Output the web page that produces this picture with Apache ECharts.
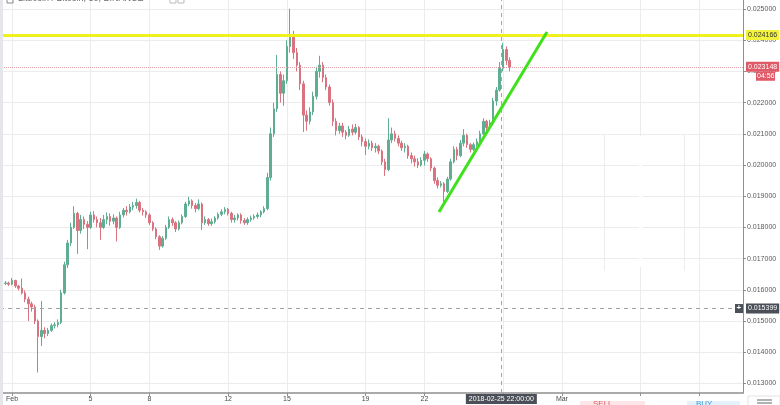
<!DOCTYPE html>
<html><head><meta charset="utf-8">
<script src="https://cdn.jsdelivr.net/npm/echarts@6/dist/echarts.min.js"></script>
<style>html,body{margin:0;padding:0;background:#fff;overflow:hidden}#c{width:780px;height:405px}</style>
</head><body><div id="c"></div>
<script>
// ---- data (LTC/BTC; 4h steps, day 0 = Feb 1 00:00) ----
const startDay = -1/3;
const stepDay = 1/6;
const opens = [0.01620,0.01622,0.01618,0.01630,0.01612,0.01605,0.01590,0.01570,0.01555,0.01545,
 0.01500,0.01450,0.01470,0.01460,0.01470,0.01485,0.01488,0.01495,0.01590,0.01680,
 0.01750,0.01800,0.01845,0.01790,0.01825,0.01810,0.01800,0.01840,0.01825,0.01815,
 0.01800,0.01825,0.01835,0.01820,0.01830,0.01800,0.01840,0.01855,0.01850,0.01865,
 0.01870,0.01880,0.01855,0.01850,0.01840,0.01815,0.01795,0.01770,0.01740,0.01765,
 0.01800,0.01825,0.01815,0.01795,0.01815,0.01835,0.01875,0.01885,0.01870,0.01860,
 0.01875,0.01815,0.01825,0.01812,0.01818,0.01830,0.01842,0.01850,0.01858,0.01845,
 0.01825,0.01830,0.01840,0.01822,0.01815,0.01825,0.01830,0.01835,0.01840,0.01850,
 0.01860,0.01960,0.02100,0.02180,0.02290,0.02230,0.02270,0.02380,0.02410,0.02360,
 0.02320,0.02260,0.02160,0.02140,0.02170,0.02220,0.02300,0.02320,0.02280,0.02250,
 0.02200,0.02140,0.02110,0.02125,0.02105,0.02095,0.02115,0.02105,0.02120,0.02090,
 0.02075,0.02060,0.02070,0.02055,0.02060,0.02045,0.02010,0.01985,0.02080,0.02100,
 0.02085,0.02070,0.02055,0.02060,0.02030,0.02020,0.02010,0.02000,0.02015,0.02035,
 0.02020,0.01990,0.01950,0.01935,0.01940,0.01915,0.01955,0.02010,0.02050,0.02030,
 0.02070,0.02095,0.02065,0.02050,0.02065,0.02075,0.02100,0.02140,0.02120,0.02135,
 0.02205,0.02240,0.02310,0.02370,0.02335];
const closes = [0.01622,0.01618,0.01630,0.01612,0.01605,0.01590,0.01570,0.01555,0.01545,0.01500,
 0.01450,0.01470,0.01460,0.01470,0.01485,0.01488,0.01495,0.01590,0.01680,0.01750,
 0.01800,0.01845,0.01790,0.01825,0.01810,0.01800,0.01840,0.01825,0.01815,0.01800,
 0.01825,0.01835,0.01820,0.01830,0.01800,0.01840,0.01855,0.01850,0.01865,0.01870,
 0.01880,0.01855,0.01850,0.01840,0.01815,0.01795,0.01770,0.01740,0.01765,0.01800,
 0.01825,0.01815,0.01795,0.01815,0.01835,0.01875,0.01885,0.01870,0.01860,0.01875,
 0.01815,0.01825,0.01812,0.01818,0.01830,0.01842,0.01850,0.01858,0.01845,0.01825,
 0.01830,0.01840,0.01822,0.01815,0.01825,0.01830,0.01835,0.01840,0.01850,0.01860,
 0.01960,0.02100,0.02180,0.02290,0.02230,0.02270,0.02380,0.02410,0.02360,0.02320,
 0.02260,0.02160,0.02140,0.02170,0.02220,0.02300,0.02320,0.02280,0.02250,0.02200,
 0.02140,0.02110,0.02125,0.02105,0.02095,0.02115,0.02105,0.02120,0.02090,0.02075,
 0.02060,0.02070,0.02055,0.02060,0.02045,0.02010,0.01985,0.02080,0.02100,0.02085,
 0.02070,0.02055,0.02060,0.02030,0.02020,0.02010,0.02000,0.02015,0.02035,0.02020,
 0.01990,0.01950,0.01935,0.01940,0.01915,0.01955,0.02010,0.02050,0.02030,0.02070,
 0.02095,0.02065,0.02050,0.02065,0.02075,0.02100,0.02140,0.02120,0.02135,0.02205,
 0.02240,0.02310,0.02370,0.02335,0.023148];
const lows = [0.01615,0.01612,0.01614,0.01606,0.01598,0.01585,0.01560,0.01500,0.01530,0.01490,
 0.01335,0.01420,0.01445,0.01452,0.01465,0.01476,0.01480,0.01490,0.01585,0.01670,
 0.01740,0.01795,0.01715,0.01780,0.01795,0.01730,0.01795,0.01815,0.01800,0.01760,
 0.01795,0.01810,0.01805,0.01810,0.01755,0.01795,0.01832,0.01838,0.01845,0.01855,
 0.01860,0.01848,0.01838,0.01830,0.01808,0.01788,0.01762,0.01728,0.01735,0.01760,
 0.01795,0.01805,0.01785,0.01790,0.01810,0.01830,0.01868,0.01860,0.01848,0.01855,
 0.01792,0.01808,0.01805,0.01805,0.01812,0.01825,0.01836,0.01842,0.01838,0.01815,
 0.01815,0.01822,0.01812,0.01808,0.01808,0.01818,0.01825,0.01828,0.01832,0.01845,
 0.01855,0.01950,0.02090,0.02170,0.02200,0.02190,0.02260,0.02360,0.02340,0.02300,
 0.02240,0.02106,0.02110,0.02130,0.02160,0.02210,0.02280,0.02265,0.02240,0.02190,
 0.02125,0.02095,0.02100,0.02090,0.02082,0.02090,0.02095,0.02098,0.02080,0.02060,
 0.02032,0.02050,0.02045,0.02040,0.02035,0.02000,0.01965,0.01980,0.02070,0.02075,
 0.02060,0.02045,0.02040,0.02020,0.02005,0.01995,0.01990,0.01995,0.01998,0.02010,
 0.01980,0.01940,0.01925,0.01928,0.01882,0.01910,0.01950,0.02005,0.02015,0.02025,
 0.02060,0.02055,0.02040,0.02045,0.02060,0.02070,0.02095,0.02110,0.02115,0.02130,
 0.02190,0.02235,0.02300,0.02320,0.02300];
const highs = [0.01628,0.01626,0.01638,0.01632,0.01616,0.01636,0.01598,0.01578,0.01562,0.01552,
 0.01505,0.01564,0.01480,0.01478,0.01492,0.01496,0.01505,0.01600,0.01690,0.01760,
 0.01815,0.01868,0.01850,0.01840,0.01835,0.01820,0.01850,0.01852,0.01835,0.01830,
 0.01840,0.01848,0.01845,0.01842,0.01835,0.01850,0.01862,0.01868,0.01875,0.01882,
 0.01892,0.01885,0.01862,0.01855,0.01845,0.01820,0.01800,0.01775,0.01772,0.01808,
 0.01835,0.01832,0.01820,0.01822,0.01842,0.01882,0.01898,0.01890,0.01878,0.01890,
 0.01880,0.01835,0.01830,0.01828,0.01836,0.01848,0.01858,0.01865,0.01862,0.01850,
 0.01840,0.01845,0.01845,0.01830,0.01832,0.01838,0.01842,0.01848,0.01855,0.01868,
 0.01975,0.02120,0.02200,0.02353,0.02300,0.02290,0.02400,0.02501,0.02430,0.02375,
 0.02330,0.02270,0.02175,0.02185,0.02235,0.02315,0.02350,0.02330,0.02290,0.02258,
 0.02210,0.02150,0.02135,0.02135,0.02112,0.02125,0.02130,0.02132,0.02125,0.02098,
 0.02085,0.02082,0.02078,0.02070,0.02065,0.02050,0.02020,0.02150,0.02120,0.02110,
 0.02095,0.02078,0.02070,0.02065,0.02040,0.02030,0.02022,0.02025,0.02045,0.02040,
 0.02025,0.01995,0.01960,0.01948,0.01945,0.01962,0.02020,0.02060,0.02058,0.02080,
 0.02115,0.02100,0.02070,0.02072,0.02085,0.02110,0.02150,0.02145,0.02145,0.02215,
 0.02250,0.02330,0.02391,0.02380,0.02345];

const tickDays   = [0, 4, 7, 11, 14, 18, 21, 25, 28, 32, 35];
const tickLabels = ['Feb', '5', '8', '12', '15', '19', '22', '', 'Mar', '', ''];
const priceTicks = [0.013,0.014,0.015,0.016,0.017,0.018,0.019,0.020,0.021,0.022,0.023,0.024,0.025];

const resistanceLevel = 0.024166;
const lastPrice = 0.023148;
const lastPriceTimer = '04:56';
const crossPrice = 0.015399;
const crossDay = 24 + 22/24;
const crossLabel = '2018-02-25 22:00:00';
const trendStart = [21.74, 0.018494];
const trendEnd = [27.24, 0.024263];
const titleText = 'Litecoin / Bitcoin, 30, BINANCE';

const xMin = -0.611, xMax = 37.22;
const yMin = 0.012692, yMax = 0.025288;

// ---- chart ----
const FONT = 'Liberation Sans';
const chart = echarts.init(document.getElementById('c'), null, {renderer: 'canvas'});
const candleData = opens.map((o, i) => [startDay + i * stepDay, o, closes[i], lows[i], highs[i]]);
const UP = '#5fae92', DOWN = '#d9737f';

const levelLabel = (bg, fg) => ({show: true, position: 'end', distance: 3, backgroundColor: bg, color: fg,
  fontSize: 7, padding: [2, 2, 1, 2], fontFamily: FONT});

chart.setOption({
  animation: false,
  backgroundColor: '#ffffff',
  textStyle: {fontFamily: FONT},
  grid: {left: 0, right: 37, top: 0, bottom: 12, containLabel: false},
  xAxis: {
    type: 'value', min: xMin, max: xMax,
    axisLine: {show: true, onZero: false, lineStyle: {color: '#8f8f8f', width: 1.5}},
    axisTick: {show: true, length: 3, customValues: tickDays, lineStyle: {color: '#8f8f8f'}},
    axisLabel: {customValues: tickDays, fontSize: 7, color: '#4a4a4a', margin: 3,
      formatter: v => tickLabels[tickDays.indexOf(v)] || ''},
    splitLine: {show: true, lineStyle: {color: '#ececec', width: 1}}
  },
  yAxis: {
    type: 'value', position: 'right', min: yMin, max: yMax,
    axisLine: {show: true, onZero: false, lineStyle: {color: '#8f8f8f', width: 1}},
    axisTick: {show: true, length: 3, customValues: priceTicks, lineStyle: {color: '#8f8f8f'}},
    axisLabel: {customValues: priceTicks, fontSize: 7, color: '#5a5a5a', margin: 4,
      formatter: v => v.toFixed(6)},
    splitLine: {show: true, lineStyle: {color: '#ececec', width: 1}}
  },
  series: [{
    type: 'candlestick',
    data: candleData,
    encode: {x: 0, y: [1, 2, 3, 4]},
    barWidth: 2,
    z: 2,
    itemStyle: {color: UP, color0: DOWN, borderColor: UP, borderColor0: DOWN, borderWidth: 1}
  }, {
    type: 'line',
    data: [trendStart, trendEnd],
    symbol: 'none',
    silent: true,
    z: 5,
    lineStyle: {color: '#3fe01c', width: 3},
    markLine: {
      silent: true, symbol: ['none', 'none'], animation: false, precision: 8,
      data: [
        {yAxis: lastPrice, lineStyle: {color: '#dba0a8', width: 1, type: 'dotted'},
          label: Object.assign(levelLabel('#e05a68', '#fff'), {formatter: lastPrice.toFixed(6)})},
        {yAxis: crossPrice, lineStyle: {color: '#a3a3a3', width: 1, type: [4, 4]},
          label: Object.assign(levelLabel('#4b4f58', '#fff'), {formatter: crossPrice.toFixed(6)})},
        {xAxis: crossDay, lineStyle: {color: '#a3a3a3', width: 1, type: [4, 4]},
          label: {show: true, position: 'start', distance: 1, formatter: crossLabel, fontFamily: FONT,
            backgroundColor: '#4b4f58', color: '#fff', fontSize: 7, padding: [2, 3, 1, 3]}},
        {yAxis: resistanceLevel, lineStyle: {color: '#f0f020', width: 3, type: 'solid'},
          label: Object.assign(levelLabel('#f2f23c', '#333'), {formatter: resistanceLevel.toFixed(6)})}
      ]
    }
  }]
});

// overlays positioned through the chart's own scales
const lp = chart.convertToPixel({yAxisIndex: 0}, lastPrice);
const cp = chart.convertToPixel({yAxisIndex: 0}, crossPrice);
const gx = chart.convertToPixel({xAxisIndex: 0}, xMax);
chart.setOption({
  graphic: [
    {type: 'rect', shape: {x: 0, y: 0, width: 3, height: 405}, style: {fill: '#e4e6ea'}, z: 100},
    {type: 'rect', shape: {x: 7, y: -4, width: 6, height: 7}, style: {fill: 'none', stroke: '#888'}, z: 100},
    {type: 'text', x: 18, y: -6, style: {text: titleText, font: '9px ' + FONT, fill: '#6a6a6a'}, z: 100},
    {type: 'rect', shape: {x: 170, y: -4, width: 6, height: 7}, style: {fill: 'none', stroke: '#bbb'}, z: 100},
    {type: 'rect', shape: {x: 178, y: -4, width: 6, height: 7}, style: {fill: 'none', stroke: '#bbb'}, z: 100},
    // countdown under the last price
    {type: 'rect', shape: {x: gx + 13, y: lp + 5, width: 19, height: 9}, style: {fill: '#e05a68'}, z: 100},
    {type: 'text', x: gx + 14, y: lp + 6, style: {text: lastPriceTimer, font: '7px ' + FONT, fill: '#fff'}, z: 101},
    // crosshair "+" box
    {type: 'rect', shape: {x: gx - 8, y: cp - 4.5, width: 8, height: 9}, style: {fill: '#4b4f58'}, z: 100},
    {type: 'text', x: gx - 6.5, y: cp - 4.5, style: {text: '+', font: 'bold 8px ' + FONT, fill: '#fff'}, z: 101},
    // ghost order panel
    {type: 'rect', shape: {x: 639, y: 136, width: 3, height: 131}, style: {fill: '#fff'}, z: 50},
    {type: 'line', shape: {x1: 604.5, y1: 135, x2: 604.5, y2: 271}, style: {stroke: '#ececec', lineWidth: 1}, z: 51},
    {type: 'line', shape: {x1: 684.5, y1: 135, x2: 684.5, y2: 271}, style: {stroke: '#ececec', lineWidth: 1}, z: 51},
    // buy / sell widgets at the bottom edge
    {type: 'rect', shape: {x: 580, y: 401, width: 65, height: 6}, style: {fill: '#fde6e8'}, z: 100},
    {type: 'text', x: 593, y: 400, style: {text: 'SELL', font: '8px ' + FONT, fill: '#e05a68'}, z: 101},
    {type: 'rect', shape: {x: 687, y: 401, width: 53, height: 6}, style: {fill: '#e3f2fb'}, z: 100},
    {type: 'text', x: 696, y: 400, style: {text: 'BUY', font: '8px ' + FONT, fill: '#3d9bd6'}, z: 101},
    {type: 'rect', shape: {x: 748, y: 396, width: 32, height: 12}, style: {fill: '#fff', stroke: '#e2e2e2'}, z: 100},
    {type: 'line', shape: {x1: 757, y1: 400, x2: 772, y2: 400}, style: {stroke: '#666', lineWidth: 1}, z: 101},
    {type: 'line', shape: {x1: 757, y1: 403, x2: 772, y2: 403}, style: {stroke: '#666', lineWidth: 1}, z: 101}
  ]
});
</script>
</body></html>
